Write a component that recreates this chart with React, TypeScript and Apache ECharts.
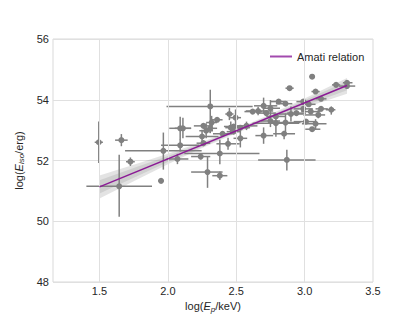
import React, { useEffect, useRef } from "react";
import * as echarts from "echarts";

// observed GRBs: [log Ep, log Eiso, xerr-, xerr+, yerr-, yerr+]
const grbPoints: number[][] = [
  [1.495, 52.6, 0.03, 0.03, 0.68, 0.68],
  [1.66, 52.67, 0.046, 0.046, 0.2, 0.2],
  [1.726, 51.96, 0.032, 0.032, 0.14, 0.14],
  [1.644, 51.15, 0.24, 0.24, 1.0, 1.04],
  [1.95, 51.33, 0.02, 0.02, 0.03, 0.03],
  [1.967, 52.32, 0.28, 0.28, 0.62, 0.6],
  [2.09, 52.5, 0.14, 0.14, 0.2, 0.2],
  [2.09, 53.06, 0.08, 0.08, 0.38, 0.38],
  [2.11, 53.06, 0.06, 0.06, 0.33, 0.35],
  [2.07, 52.05, 0.08, 0.08, 0.17, 0.17],
  [2.31, 53.78, 0.32, 0.31, 0.88, 0.55],
  [2.24, 52.13, 0.07, 0.07, 0.1, 0.1],
  [2.29, 51.62, 0.12, 0.11, 0.52, 0.52],
  [2.38, 51.5, 0.055, 0.055, 0.14, 0.14],
  [2.38, 52.23, 0.26, 0.29, 0.35, 0.45],
  [2.44, 52.55, 0.085, 0.085, 0.2, 0.2],
  [2.45, 53.53, 0.03, 0.03, 0.2, 0.2],
  [2.495, 53.41, 0.04, 0.04, 0.27, 0.27],
  [2.53, 52.73, 0.05, 0.05, 0.3, 0.3],
  [2.26, 53.14, 0.07, 0.07, 0.06, 0.06],
  [2.25, 52.79, 0.12, 0.12, 0.22, 0.22],
  [2.28, 52.98, 0.05, 0.05, 0.25, 0.25],
  [2.32, 53.25, 0.04, 0.04, 0.22, 0.22],
  [2.36, 53.34, 0.04, 0.04, 0.05, 0.05],
  [2.4, 52.88, 0.07, 0.07, 0.08, 0.08],
  [2.46, 53.08, 0.04, 0.04, 0.2, 0.2],
  [2.48, 52.95, 0.05, 0.05, 0.08, 0.08],
  [2.575, 53.14, 0.09, 0.08, 0.14, 0.14],
  [2.66, 53.63, 0.09, 0.11, 0.14, 0.14],
  [2.7, 53.8, 0.07, 0.1, 0.27, 0.27],
  [2.7, 52.82, 0.06, 0.07, 0.27, 0.27],
  [2.75, 53.72, 0.05, 0.07, 0.27, 0.27],
  [2.81, 53.94, 0.06, 0.05, 0.05, 0.05],
  [2.79, 53.23, 0.17, 0.17, 0.45, 0.28],
  [2.85, 52.88, 0.08, 0.08, 0.18, 0.1],
  [2.87, 52.02, 0.21, 0.21, 0.35, 0.33],
  [2.89, 54.38, 0.03, 0.03, 0.04, 0.04],
  [2.86, 53.87, 0.07, 0.05, 0.05, 0.05],
  [2.86, 53.25, 0.11, 0.11, 0.35, 0.3],
  [2.9, 53.53, 0.09, 0.09, 0.25, 0.25],
  [2.94, 53.56, 0.07, 0.07, 0.06, 0.06],
  [2.99, 53.94, 0.05, 0.05, 0.05, 0.05],
  [2.99, 53.7, 0.07, 0.07, 0.06, 0.06],
  [3.03, 53.85, 0.05, 0.05, 0.05, 0.05],
  [3.055, 54.76, 0.02, 0.02, 0.03, 0.03],
  [3.08, 54.27, 0.03, 0.03, 0.04, 0.04],
  [3.12, 54.03, 0.04, 0.04, 0.05, 0.05],
  [3.12, 53.7, 0.04, 0.05, 0.05, 0.05],
  [3.045, 53.61, 0.07, 0.07, 0.05, 0.05],
  [3.1, 53.5, 0.11, 0.05, 0.11, 0.16],
  [3.08, 53.21, 0.1, 0.08, 0.19, 0.15],
  [3.055, 53.03, 0.05, 0.06, 0.05, 0.05],
  [3.195, 53.67, 0.04, 0.03, 0.16, 0.11],
  [3.23, 54.49, 0.03, 0.03, 0.03, 0.03],
  [3.31, 54.56, 0.03, 0.04, 0.04, 0.04],
  [3.31, 54.45, 0.06, 0.06, 0.04, 0.04],
  [3.01, 53.28, 0.09, 0.07, 0.06, 0.06],
  [2.62, 53.61, 0.06, 0.07, 0.06, 0.06],
  [2.72, 53.56, 0.07, 0.07, 0.06, 0.06],
  [2.75, 53.3, 0.07, 0.07, 0.2, 0.2],
  [2.79, 53.45, 0.07, 0.07, 0.06, 0.06],
  [2.48, 53.12, 0.07, 0.07, 0.06, 0.06],
  [2.53, 53.08, 0.05, 0.07, 0.06, 0.06],
  [2.26, 52.57, 0.05, 0.05, 0.1, 0.1],
  [2.31, 53.06, 0.05, 0.05, 0.15, 0.15],
];

// Amati relation fit
const fitX = [1.5, 3.31];
const fitY = [51.13, 54.47];

// confidence bands
const bandX = [1.5, 1.75, 2.0, 2.25, 2.5, 2.75, 3.0, 3.31];
const outerLower = [50.75, 51.32, 51.88, 52.41, 52.9, 53.34, 53.74, 54.2];
const outerUpper = [51.51, 51.86, 52.22, 52.61, 53.04, 53.52, 54.04, 54.72];
const innerLower = [50.91, 51.43, 51.95, 52.45, 52.93, 53.38, 53.8, 54.31];
const innerUpper = [51.35, 51.75, 52.15, 52.57, 53.01, 53.48, 53.98, 54.61];

const xTicks = [1.5, 2.0, 2.5, 3.0, 3.5];
const xGridLines = [1.5, 2.0, 2.5, 3.0];

const FONT = "'Liberation Sans', Arial, Helvetica, sans-serif";
const GREY = "#808080";

export default function App() {
  const ref = useRef<HTMLDivElement>(null);
  useEffect(() => {
    document.body.style.margin = "0";
    const chart = echarts.init(ref.current!, undefined, { renderer: "svg" });
    const bandPoly = (api: any, lo: number[], hi: number[]) => {
      const pts: number[][] = [];
      for (let i = 0; i < bandX.length; i++) pts.push(api.coord([bandX[i], hi[i]]));
      for (let i = bandX.length - 1; i >= 0; i--) pts.push(api.coord([bandX[i], lo[i]]));
      return pts;
    };
    const rich = {
      n: { fontFamily: FONT, fontSize: 11, color: "#262626", lineHeight: 14 },
      i: { fontFamily: FONT, fontSize: 11, color: "#262626", fontStyle: "italic", lineHeight: 14 },
      s: { fontFamily: FONT, fontSize: 8, color: "#262626", fontStyle: "italic", verticalAlign: "bottom", lineHeight: 8 },
    };
    const option: any = {
      animation: false,
      grid: {
        left: 53,
        top: 39,
        width: 320,
        height: 243,
        show: true,
        borderColor: "#d9d9d9",
        borderWidth: 1,
        backgroundColor: "#fff",
      },
      legend: {
        data: ["Amati relation"],
        left: 265,
        top: 46,
        icon: "rect",
        itemWidth: 22,
        itemHeight: 2,
        itemGap: 5,
        itemStyle: { color: "#a24aae" },
        textStyle: { fontFamily: FONT, fontSize: 11, color: "#262626" },
      },
      xAxis: {
        type: "value",
        min: 1.16,
        max: 3.5,
        axisLine: { show: false },
        axisTick: { show: false },
        splitLine: { show: false },
        axisLabel: {
          customValues: xTicks,
          formatter: (v: number) => v.toFixed(1),
          fontFamily: FONT,
          fontSize: 11,
          color: "#262626",
          margin: 3,
        },
        name: "{n|log(}{i|E}{s|p}{n|/keV)}",
        nameLocation: "middle",
        nameGap: 16,
        nameTextStyle: { rich },
      },
      yAxis: {
        type: "value",
        min: 48,
        max: 56,
        interval: 2,
        axisLine: { show: false },
        axisTick: { show: false },
        splitLine: { show: true, lineStyle: { color: "#e0e0e0", width: 1 } },
        axisLabel: { fontFamily: FONT, fontSize: 11, color: "#262626", margin: 4 },
        name: "{n|log(}{i|E}{s|iso}{n|/erg)}",
        nameLocation: "middle",
        nameRotate: 90,
        nameGap: 22,
        nameTextStyle: { rich },
      },
      series: [
        {
          name: "grid",
          type: "line",
          data: [],
          z: 1,
          silent: true,
          markLine: {
            silent: true,
            symbol: "none",
            label: { show: false },
            lineStyle: { color: "#e0e0e0", width: 1, type: "solid" },
            data: xGridLines.map((v) => ({ xAxis: v })),
          },
        },
        {
          name: "band",
          type: "custom",
          z: 2,
          silent: true,
          data: [[bandX[0], fitY[0]]],
          renderItem: (_p: any, api: any) => ({
            type: "group",
            children: [
              {
                type: "polygon",
                shape: { points: bandPoly(api, outerLower, outerUpper) },
                style: { fill: "rgba(128,128,128,0.22)" },
              },
              {
                type: "polygon",
                shape: { points: bandPoly(api, innerLower, innerUpper) },
                style: { fill: "rgba(128,128,128,0.2)" },
              },
            ],
          }),
        },
        {
          name: "errors",
          type: "custom",
          z: 3,
          silent: true,
          data: grbPoints,
          renderItem: (_p: any, api: any) => {
            const x = api.value(0), y = api.value(1);
            const l = api.coord([x - api.value(2), y]);
            const r = api.coord([x + api.value(3), y]);
            const b = api.coord([x, y - api.value(4)]);
            const t = api.coord([x, y + api.value(5)]);
            const st = { stroke: GREY, lineWidth: 1.5 };
            return {
              type: "group",
              children: [
                { type: "line", shape: { x1: l[0], y1: l[1], x2: r[0], y2: r[1] }, style: st },
                { type: "line", shape: { x1: b[0], y1: b[1], x2: t[0], y2: t[1] }, style: st },
              ],
            };
          },
        },
        {
          name: "GRB",
          type: "scatter",
          z: 4,
          symbolSize: 6,
          itemStyle: { color: GREY, opacity: 1 },
          data: grbPoints.map((p) => [p[0], p[1]]),
        },
        {
          name: "Amati relation",
          type: "line",
          z: 5,
          showSymbol: false,
          symbol: "none",
          lineStyle: { color: "#8b1a95", width: 1.5 },
          itemStyle: { color: "#a24aae" },
          data: fitX.map((x, i) => [x, fitY[i]]),
        },
      ],
    };
    chart.setOption(option);
    return () => chart.dispose();
  }, []);
  return <div ref={ref} style={{ width: 415, height: 323 }} />;
}
